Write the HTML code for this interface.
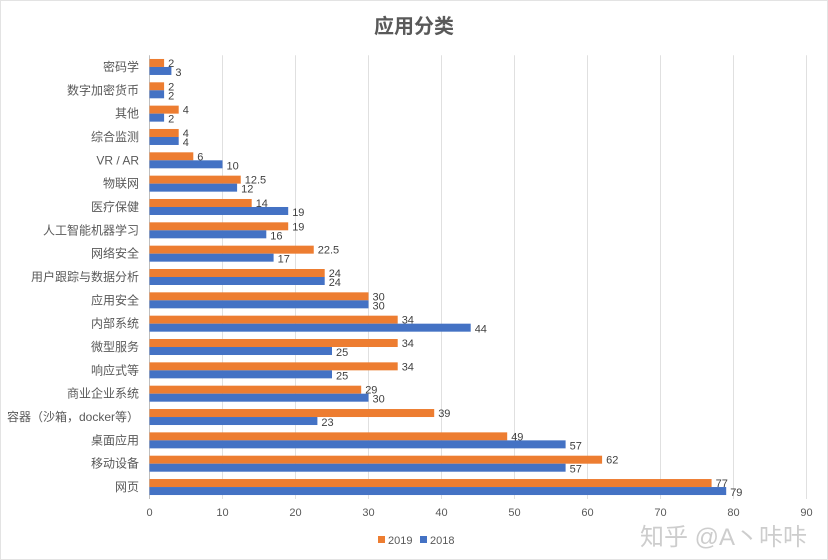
<!DOCTYPE html>
<html><head><meta charset="utf-8"><style>
body{margin:0;background:#fff;}
svg{display:block;font-family:"Liberation Sans","Noto Sans CJK SC",sans-serif;}
</style></head><body>
<svg id="chart" width="828" height="560">
<rect x="0" y="0" width="828" height="560" fill="#fff"/>
<rect x="0.5" y="0.5" width="827" height="559" fill="none" stroke="#e3e3e3"/>
<text x="414" y="33" text-anchor="middle" font-size="20" font-weight="bold" fill="#595959">应用分类</text>
<g id="grid"></g><g id="bars"></g><g id="labels"></g>
<g>
<rect x="378" y="536" width="7" height="7" fill="#ED7D31"/>
<text x="388" y="544" font-size="11" fill="#595959">2019</text>
<rect x="420" y="536" width="7" height="7" fill="#4472C4"/>
<text x="430" y="544" font-size="11" fill="#595959">2018</text>
</g>
<text x="640" y="545" font-size="24" fill="#c8c8c8" opacity="0.9">知乎 @A丶咔咔</text>
</svg>
<script>
const categories=["密码学","数字加密货币","其他","综合监测","VR / AR","物联网","医疗保健","人工智能机器学习","网络安全","用户跟踪与数据分析","应用安全","内部系统","微型服务","响应式等","商业企业系统","容器（沙箱，docker等）","桌面应用","移动设备","网页"];
const values2019=[2,2,4,4,6,12.5,14,19,22.5,24,30,34,34,34,29,39,49,62,77];
const values2018=[3,2,2,4,10,12,19,16,17,24,30,44,25,25,30,23,57,57,79];
const ticks=[0,10,20,30,40,50,60,70,80,90];
const NS="http://www.w3.org/2000/svg";
const x0=149.5,xs=7.3,plotTop=55.3,bandH=(498.7-55.3)/categories.length;
const X=v=>x0+v*xs;
const Y=i=>plotTop+bandH*(i+0.5);
function mk(tag,attrs,parent){const e=document.createElementNS(NS,tag);for(const k in attrs)e.setAttribute(k,attrs[k]);parent.appendChild(e);return e;}
const grid=document.getElementById('grid'),bars=document.getElementById('bars'),labels=document.getElementById('labels');
ticks.forEach((t,i)=>{
  const l=mk('line',{x1:X(t),x2:X(t),y1:plotTop,y2:499,stroke:i==0?'#bfbfbf':'#e0e0e0','stroke-width':1},grid);
  
  
  const tx=mk('text',{x:X(t),y:516,'text-anchor':'middle','font-size':11,fill:'#595959'},labels);
  tx.textContent=t;
  
  
});
categories.forEach((c,i)=>{
  const cy=Y(i);
  const lb=mk('text',{x:139,y:cy+4,'text-anchor':'end','font-size':12,fill:'#595959'},labels);
  lb.textContent=c;
  
  
  const b1=mk('rect',{x:X(0),y:cy-8,width:X(values2019[i])-X(0),height:8,fill:'#ED7D31'},bars);
  
  
  const b2=mk('rect',{x:X(0),y:cy,width:X(values2018[i])-X(0),height:8,fill:'#4472C4'},bars);
  
  
  const v1=mk('text',{x:X(values2019[i])+4,y:cy,'font-size':11,fill:'#404040'},labels);
  v1.textContent=values2019[i];
  
  
  const v2=mk('text',{x:X(values2018[i])+4,y:cy+9,'font-size':11,fill:'#404040'},labels);
  v2.textContent=values2018[i];
  
  
});
</script>
</body></html>
